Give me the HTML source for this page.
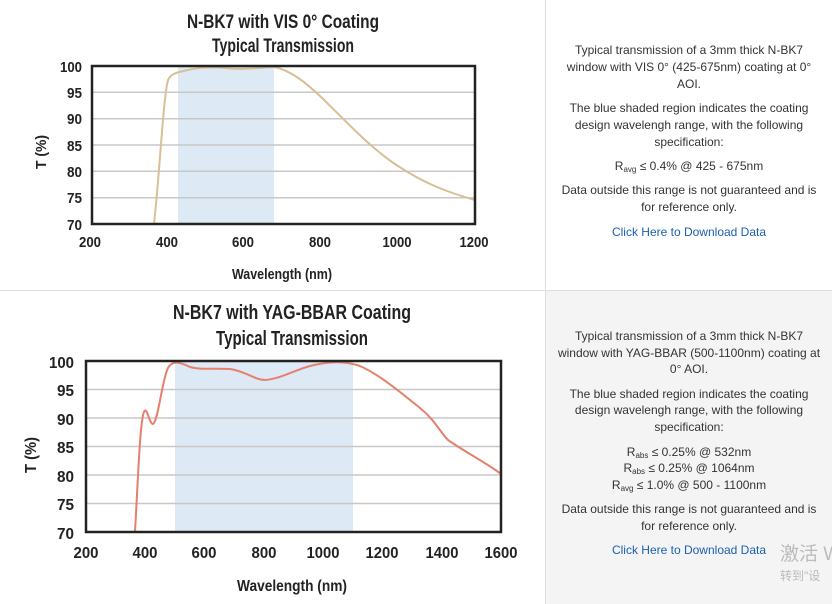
<!DOCTYPE html>
<html><head><meta charset="utf-8"><style>
body{margin:0;width:832px;height:604px;position:relative;background:#fff;font-family:"Liberation Sans",sans-serif;overflow:hidden}
.p{position:absolute;left:546px;width:286px;text-align:center;font-size:12px;color:#333;line-height:17px}
.l{position:absolute;width:286px;left:0;text-align:center;white-space:nowrap}
a{color:#1a5fb4;text-decoration:none}
sub{font-size:8px;vertical-align:-2px;line-height:0}
</style></head><body>
<div style="position:absolute;left:0;top:290px;width:832px;height:1px;background:#ddd"></div>
<div style="position:absolute;left:545px;top:0;width:1px;height:604px;background:#ddd"></div>
<div style="position:absolute;left:546px;top:291px;width:286px;height:313px;background:#f4f4f4"></div>
<svg width="546" height="604" style="position:absolute;left:0;top:0" font-family="Liberation Sans Narrow,Liberation Sans,sans-serif" font-weight="bold" fill="#222" lengthAdjust="spacingAndGlyphs">
<!-- chart 1 -->
<text x="283" y="28" text-anchor="middle" font-size="19" textLength="192" lengthAdjust="spacingAndGlyphs">N-BK7 with VIS 0° Coating</text>
<text x="283" y="52" text-anchor="middle" font-size="19" textLength="142" lengthAdjust="spacingAndGlyphs">Typical Transmission</text>
<rect x="178" y="66" width="96" height="158" fill="#dde9f5"/>
<g stroke="#c8c8c8" stroke-width="1.5"><line x1="92" x2="475" y1="92.3" y2="92.3"/><line x1="92" x2="475" y1="118.7" y2="118.7"/><line x1="92" x2="475" y1="145" y2="145"/><line x1="92" x2="475" y1="171.3" y2="171.3"/><line x1="92" x2="475" y1="197.7" y2="197.7"/></g>
<path d="M154,224 C160,170 163,100 168,80 C172,72 180,72 188,70 C200,67 215,67 225,68 C240,70 255,68 274,67 C290,70 305,82 320,96 C345,120 370,148 398,166 C425,184 450,193 475,200" fill="none" stroke="#d8bf95" stroke-width="2"/>
<rect x="92" y="66" width="383" height="158" fill="none" stroke="#222" stroke-width="2.5"/>
<g font-size="15" text-anchor="end">
<text x="82" y="72" textLength="22" lengthAdjust="spacingAndGlyphs">100</text>
<text x="82" y="98" textLength="15" lengthAdjust="spacingAndGlyphs">95</text>
<text x="82" y="124" textLength="15" lengthAdjust="spacingAndGlyphs">90</text>
<text x="82" y="151" textLength="15" lengthAdjust="spacingAndGlyphs">85</text>
<text x="82" y="177" textLength="15" lengthAdjust="spacingAndGlyphs">80</text>
<text x="82" y="203" textLength="15" lengthAdjust="spacingAndGlyphs">75</text>
<text x="82" y="230" textLength="15" lengthAdjust="spacingAndGlyphs">70</text></g>
<g font-size="15" text-anchor="middle">
<text x="90" y="247" textLength="22" lengthAdjust="spacingAndGlyphs">200</text>
<text x="167" y="247" textLength="22" lengthAdjust="spacingAndGlyphs">400</text>
<text x="243" y="247" textLength="22" lengthAdjust="spacingAndGlyphs">600</text>
<text x="320" y="247" textLength="22" lengthAdjust="spacingAndGlyphs">800</text>
<text x="397" y="247" textLength="29" lengthAdjust="spacingAndGlyphs">1000</text>
<text x="474" y="247" textLength="29" lengthAdjust="spacingAndGlyphs">1200</text></g>
<text x="282" y="279" text-anchor="middle" font-size="15" textLength="100" lengthAdjust="spacingAndGlyphs">Wavelength (nm)</text>
<text transform="translate(46,152) rotate(-90)" text-anchor="middle" font-size="15" textLength="34" lengthAdjust="spacingAndGlyphs">T (%)</text>
<!-- chart 2 -->
<text x="292" y="319" text-anchor="middle" font-size="20" textLength="238" lengthAdjust="spacingAndGlyphs">N-BK7 with YAG-BBAR Coating</text>
<text x="292" y="345" text-anchor="middle" font-size="20" textLength="152" lengthAdjust="spacingAndGlyphs">Typical Transmission</text>
<rect x="175" y="361" width="178" height="171" fill="#dde9f5"/>
<g stroke="#c8c8c8" stroke-width="1.5"><line x1="86" x2="501" y1="389.5" y2="389.5"/><line x1="86" x2="501" y1="418" y2="418"/><line x1="86" x2="501" y1="446.5" y2="446.5"/><line x1="86" x2="501" y1="475" y2="475"/><line x1="86" x2="501" y1="503.5" y2="503.5"/></g>
<path d="M135,532 C138,480 140,420 144,412 C147,405 149,424 153,424 C158,422 162,380 168,368 C172,360 180,362 190,367 C200,370 215,368 230,369 C245,371 255,380 265,380 C280,379 295,370 310,366 C330,361 345,361 360,366 C380,375 400,392 420,408 C435,420 440,432 448,440 C465,452 485,462 501,474" fill="none" stroke="#e5806e" stroke-width="2"/>
<rect x="86" y="361" width="415" height="171" fill="none" stroke="#222" stroke-width="2.5"/>
<g font-size="16" text-anchor="end">
<text x="74" y="368" textLength="25" lengthAdjust="spacingAndGlyphs">100</text>
<text x="74" y="396" textLength="17" lengthAdjust="spacingAndGlyphs">95</text>
<text x="74" y="425" textLength="17" lengthAdjust="spacingAndGlyphs">90</text>
<text x="74" y="453" textLength="17" lengthAdjust="spacingAndGlyphs">85</text>
<text x="74" y="482" textLength="17" lengthAdjust="spacingAndGlyphs">80</text>
<text x="74" y="510" textLength="17" lengthAdjust="spacingAndGlyphs">75</text>
<text x="74" y="539" textLength="17" lengthAdjust="spacingAndGlyphs">70</text></g>
<g font-size="16" text-anchor="middle">
<text x="86" y="558" textLength="25" lengthAdjust="spacingAndGlyphs">200</text>
<text x="145" y="558" textLength="25" lengthAdjust="spacingAndGlyphs">400</text>
<text x="204" y="558" textLength="25" lengthAdjust="spacingAndGlyphs">600</text>
<text x="264" y="558" textLength="25" lengthAdjust="spacingAndGlyphs">800</text>
<text x="323" y="558" textLength="33" lengthAdjust="spacingAndGlyphs">1000</text>
<text x="382" y="558" textLength="33" lengthAdjust="spacingAndGlyphs">1200</text>
<text x="442" y="558" textLength="33" lengthAdjust="spacingAndGlyphs">1400</text>
<text x="501" y="558" textLength="33" lengthAdjust="spacingAndGlyphs">1600</text></g>
<text x="292" y="591" text-anchor="middle" font-size="16" textLength="110" lengthAdjust="spacingAndGlyphs">Wavelength (nm)</text>
<text transform="translate(36,455) rotate(-90)" text-anchor="middle" font-size="16" textLength="36" lengthAdjust="spacingAndGlyphs">T (%)</text>
</svg>
<div class="p" style="top:0">
<div class="l" style="top:42px">Typical transmission of a 3mm thick N-BK7</div>
<div class="l" style="top:59px">window with VIS 0° (425-675nm) coating at 0°</div>
<div class="l" style="top:76px">AOI.</div>
<div class="l" style="top:100px">The blue shaded region indicates the coating</div>
<div class="l" style="top:117px">design wavelengh range, with the following</div>
<div class="l" style="top:134px">specification:</div>
<div class="l" style="top:158px">R<sub>avg</sub> ≤ 0.4% @ 425 - 675nm</div>
<div class="l" style="top:182px">Data outside this range is not guaranteed and is</div>
<div class="l" style="top:199px">for reference only.</div>
<div class="l" style="top:224px"><a>Click Here to Download Data</a></div>
</div>
<div class="p" style="top:0">
<div class="l" style="top:328px">Typical transmission of a 3mm thick N-BK7</div>
<div class="l" style="top:345px">window with YAG-BBAR (500-1100nm) coating at</div>
<div class="l" style="top:361px">0° AOI.</div>
<div class="l" style="top:386px">The blue shaded region indicates the coating</div>
<div class="l" style="top:402px">design wavelengh range, with the following</div>
<div class="l" style="top:419px">specification:</div>
<div class="l" style="top:444px">R<sub>abs</sub> ≤ 0.25% @ 532nm</div>
<div class="l" style="top:460px">R<sub>abs</sub> ≤ 0.25% @ 1064nm</div>
<div class="l" style="top:477px">R<sub>avg</sub> ≤ 1.0% @ 500 - 1100nm</div>
<div class="l" style="top:501px">Data outside this range is not guaranteed and is</div>
<div class="l" style="top:518px">for reference only.</div>
<div class="l" style="top:542px"><a>Click Here to Download Data</a></div>
</div>
<div style="position:absolute;left:780px;top:539px;font-size:19px;color:#bbb;font-family:'Liberation Sans','Noto Sans CJK SC',sans-serif;white-space:nowrap">激活 W</div>
<div style="position:absolute;left:780px;top:567px;font-size:12px;color:#bbb;font-family:'Liberation Sans','Noto Sans CJK SC',sans-serif;white-space:nowrap">转到"设</div>
</body></html>
